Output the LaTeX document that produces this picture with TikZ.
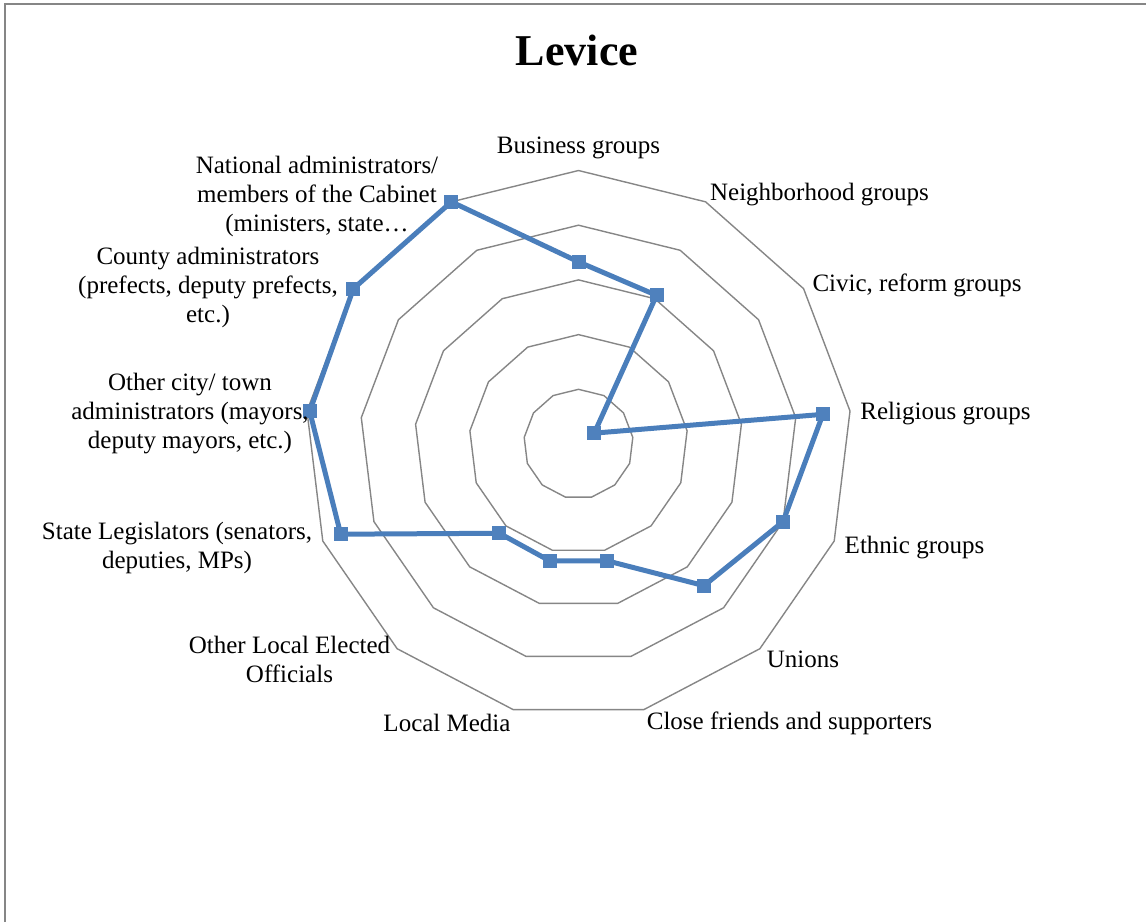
\documentclass[tikz,border=0pt]{standalone}
\usepackage{fontspec}
\setmainfont{Liberation Serif}
\definecolor{gridgray}{HTML}{868686}
\definecolor{serblue}{HTML}{4A7EBB}
\definecolor{mkblue}{HTML}{4F81BD}
\begin{document}
\begin{tikzpicture}[x=1pt,y=-1pt,
 grid/.style={draw=gridgray,line width=1.4pt,line join=miter},
 series/.style={draw=serblue,line width=5pt,line join=round},
 marker/.style={rectangle,fill=mkblue,minimum size=14pt,inner sep=0pt},
 lab/.style={font=\fontsize{25}{29}\selectfont,align=center,inner sep=0pt},
 ]
\useasboundingbox (0,0) rectangle (1146,922);
\draw[gridgray, line width=2pt] (5,922) -- (5,4) -- (1146,4);
\node[font=\fontsize{44}{50}\selectfont\bfseries, anchor=base, inner sep=0pt] (title) at (577,65) {Levice};
\begin{scope}[shift={(578.5,444)}]
\foreach \k in {1,...,5} {
  \draw[grid] (-90:{\k*54.7}) \foreach \i in {1,...,12}{ -- ({-90+\i*27.6923}:{\k*54.7})} -- cycle;
}
\foreach \v [count=\i from 0] in {3.33,3.07,0.35,4.5,4.0,3.46,2.2,2.2,2.18,4.65,4.95,5.0,5.0} {
  \coordinate (p\i) at ({-90+\i*27.6923}:{\v*54.7});
}
\draw[series] (p0) -- (p1) -- (p2) -- (p3) -- (p4) -- (p5) -- (p6) -- (p7) -- (p8) -- (p9) -- (p10) -- (p11) -- (p12) -- cycle;
\foreach \i in {0,...,12} { \node[marker] (m\i) at (p\i) {}; }
\end{scope}
\node[lab] (l0) at (578.5,148) {Business groups};
\node[lab] (l1) at (819.5,195) {Neighborhood groups};
\node[lab] (l2) at (917,285) {Civic, reform groups};
\node[lab] (l3) at (945.5,414) {Religious groups};
\node[lab] (l4) at (914.5,548) {Ethnic groups};
\node[lab] (l5) at (803,659) {Unions};
\node[lab] (l6) at (789.5,723) {Close friends and supporters};
\node[lab] (l7) at (447,723) {Local Media};
\node[lab] (l8) at (289.5,659) {Other Local Elected\\Officials};
\node[lab] (l9) at (177,548) {State Legislators (senators,\\deputies, MPs)};
\node[lab] (l10) at (190,414) {Other city/ town\\administrators (mayors,\\deputy mayors, etc.)};
\node[lab] (l11) at (208,287) {County administrators\\(prefects, deputy prefects,\\etc.)};
\node[lab] (l12) at (317,196) {National administrators/\\members of the Cabinet\\(ministers, state…};
\end{tikzpicture}
\end{document}
